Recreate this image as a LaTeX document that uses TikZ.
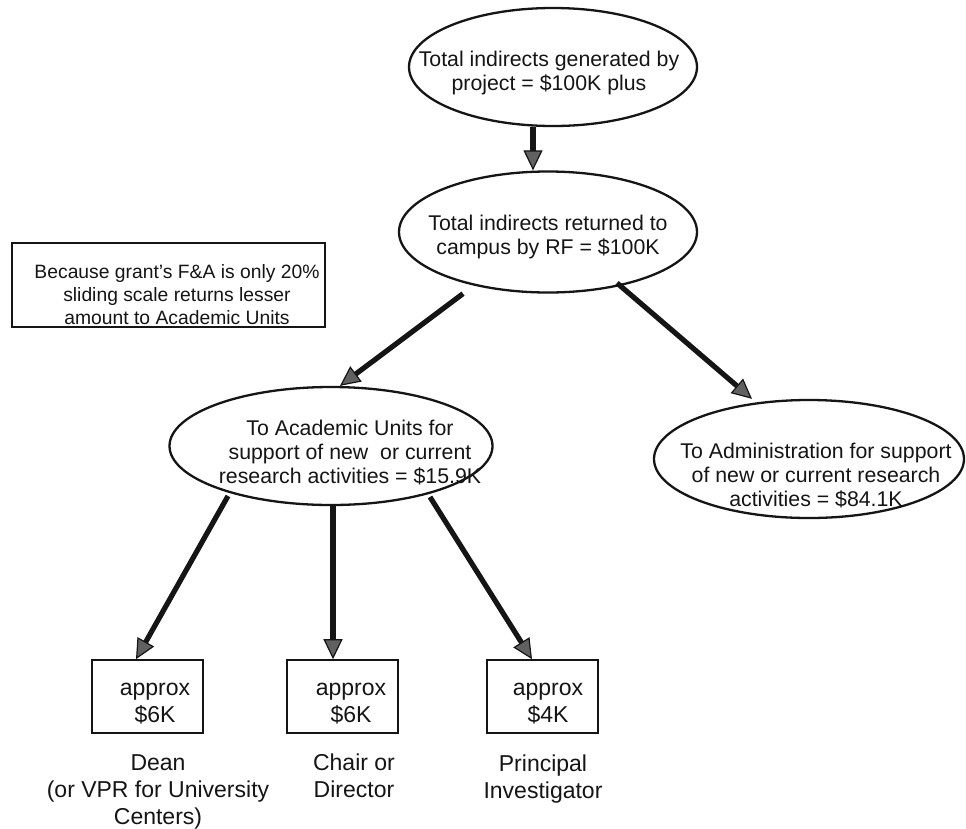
\documentclass[tikz,border=0pt]{standalone}
\usepackage{fontspec}
\setmainfont{Liberation Sans}
\usetikzlibrary{arrows.meta,shapes.geometric,calc}
\definecolor{ink}{HTML}{151515}
\begin{document}
\begin{tikzpicture}[x=1pt,y=-1pt,
  ell/.style={draw=ink, line width=2.3pt, ellipse, inner sep=0pt},
  rbox/.style={draw=ink, line width=1.6pt, rectangle, inner sep=0pt, minimum width=111pt, minimum height=73pt},
  etext/.style={align=center, font=\fontsize{21.3}{24}\selectfont, inner sep=0pt, text=ink},
  btext/.style={align=center, font=\fontsize{23}{27}\selectfont, inner sep=0pt, text=ink},
  ntext/.style={align=center, font=\fontsize{19.3}{23}\selectfont, inner sep=0pt, text=ink},
  arr/.style={draw=ink, line width=5.2pt, -{Triangle[length=20pt,width=19pt,line width=1.2pt,fill=black!62]}}]
\useasboundingbox[fill=white] (0,0) rectangle (966,828);

% ellipses
\node[ell, minimum width=288pt, minimum height=118pt] (e1) at (553,67) {};
\node[ell, minimum width=298pt, minimum height=121pt] (e2) at (548,232) {};
\node[ell, minimum width=323pt, minimum height=118pt] (e3) at (331,446) {};
\node[ell, minimum width=310pt, minimum height=118pt] (e4) at (809,459) {};

\node[etext] (t1) at (549,73) {Total indirects generated by\\project = \$100K plus};
\node[etext] (t2) at (548,236.5) {Total indirects returned to\\campus by RF = \$100K};
\node[etext] (t3) at (350,452.5) {To Academic Units for\\support of new\ \ or current\\research activities = \$15.9K};
\node[etext] (t4) at (816,475.5) {To Administration for support\\of new or current research\\activities = \$84.1K};

% note
\node[draw=ink, line width=1.4pt, rectangle, inner sep=0pt, minimum width=313pt, minimum height=84pt] (nb) at (168.5,285) {};
\node[ntext] (nt) at (177,295) {Because grant's F\&A is only 20\%\\sliding scale returns lesser\\amount to Academic Units};

% boxes
\node[rbox] (b1) at (147.5,696.5) {};
\node[rbox] (b2) at (342.5,696.5) {};
\node[rbox] (b3) at (542.5,696.5) {};
\node[btext] (bt1) at (155,704) {approx\\\$6K};
\node[btext] (bt2) at (351,704) {approx\\\$6K};
\node[btext] (bt3) at (548,704) {approx\\\$4K};

% labels
\node[btext] (l1) at (158,792) {Dean\\(or VPR for University\\Centers)};
\node[btext] (l2) at (354,776) {Chair or\\Director};
\node[btext] (l3) at (543,779) {Principal\\Investigator};

% arrows
\draw[arr] ([xshift=-20pt]e1.south) -- ([xshift=-15pt]e2.north);
\draw[arr] ([xshift=-85pt]e2.south) -- ([xshift=9pt]e3.north);
\draw[arr] ($(e2.center)+(69,51)$) -- ([xshift=-57pt]e4.north);
\draw[arr] ($(e3.center)+(-103,50)$) -- ([xshift=-11.5pt]b1.north);
\draw[arr] ([xshift=2pt]e3.south) -- ([xshift=-9.5pt]b2.north);
\draw[arr] ($(e3.center)+(99,51)$) -- ([xshift=-10.5pt]b3.north);
\end{tikzpicture}
\end{document}
